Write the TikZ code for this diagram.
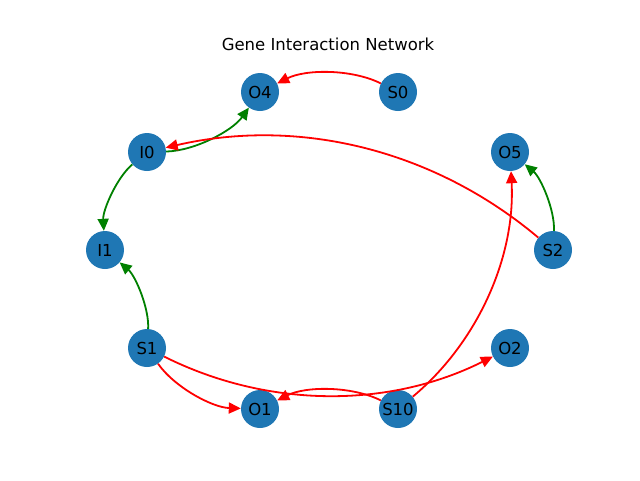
\documentclass[tikz,border=0pt]{standalone}
\usepackage{fontspec}
\setmainfont{DejaVu Sans}
\usetikzlibrary{arrows.meta,calc}
\definecolor{nodeblue}{HTML}{1F77B4}
\definecolor{edgered}{RGB}{255,0,0}
\definecolor{edgegreen}{RGB}{0,128,0}
\tikzset{
  gene/.style={circle, fill=nodeblue, draw=none, minimum size=38pt, inner sep=0pt, font=\fontsize{16.5}{19}\selectfont, text=black},
  edge/.style={line width=1.8pt, -{Triangle[length=12pt,width=11pt]}},
  rededge/.style={edge, draw=edgered},
  greenedge/.style={edge, draw=edgegreen}
}
\newcommand\arcedge[3]{\draw[#1] (#2) .. controls ($(#2.center)!0.3727!-26.57:(#3.center)$) and ($(#3.center)!0.3727!26.57:(#2.center)$) .. (#3);}
\begin{document}
\begin{tikzpicture}[x=1pt,y=-1pt]
\useasboundingbox (0,0) rectangle (640,480);
\node[font=\fontsize{16.5}{19}\selectfont] (title) at (328,44) {Gene Interaction Network};
\node[gene] (O4) at (260,92) {O4};
\node[gene] (S0) at (398,92) {S0};
\node[gene] (I0) at (147,152) {I0};
\node[gene] (O5) at (510,152) {O5};
\node[gene] (I1) at (105,250) {I1};
\node[gene] (S2) at (553,250) {S2};
\node[gene] (S1) at (147,348) {S1};
\node[gene] (O2) at (510,348) {O2};
\node[gene] (O1) at (260,409) {O1};
\node[gene] (S10) at (398,409) {S10};
\arcedge{rededge}{S0}{O4}
\arcedge{greenedge}{I0}{O4}
\arcedge{rededge}{S2}{I0}
\arcedge{greenedge}{I0}{I1}
\arcedge{greenedge}{S1}{I1}
\arcedge{rededge}{S1}{O1}
\arcedge{rededge}{S1}{O2}
\arcedge{rededge}{S10}{O1}
\arcedge{rededge}{S10}{O5}
\arcedge{greenedge}{S2}{O5}
\end{tikzpicture}
\end{document}
